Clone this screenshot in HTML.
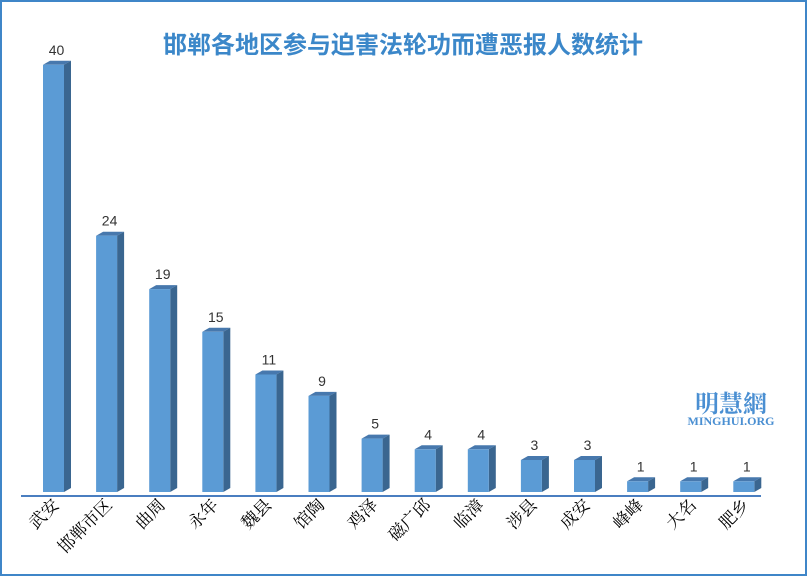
<!DOCTYPE html>
<html><head><meta charset="utf-8"><style>
html,body{margin:0;padding:0;background:#fff}
svg{display:block}
.v{font-family:"Liberation Sans",sans-serif;font-size:14px;fill:#333;text-anchor:middle}
.l{font-family:"Noto Serif CJK SC",serif;font-size:17px;fill:#000;text-anchor:end}
.tp{fill:#4778ad}.sd{fill:#3a6690}.fr{fill:#5b9bd5}
</style></head><body>
<svg width="807" height="576" xmlns="http://www.w3.org/2000/svg">
<rect x="1" y="1" width="805" height="574" fill="#fff" stroke="#3f86c8" stroke-width="2"/>
<text x="403" y="53" text-anchor="middle" font-family="'Liberation Sans','Noto Sans CJK SC',sans-serif" font-size="24" font-weight="bold" fill="#3b87c9">邯郸各地区参与迫害法轮功而遭恶报人数统计</text>
<text x="731" y="412" text-anchor="middle" font-family="'Noto Serif CJK SC',serif" font-size="24" font-weight="bold" fill="#4a8fd2">明慧網</text>
<text x="731" y="425" text-anchor="middle" font-family="'Liberation Serif',serif" font-size="12" font-weight="bold" fill="#4a8fd2">MINGHUI.ORG</text>
<line x1="21" y1="496" x2="761" y2="496" stroke="#4a7ec0" stroke-width="2"/>

<g transform="translate(43,0)"><polygon class="tp" points="0,64.8 7,60.8 28,60.8 21,64.8"/><polygon class="sd" points="21,64.8 28,60.8 28,488 21,492"/><rect class="fr" x="0" y="64.8" width="21" height="427.2"/><text class="v" x="13.5" y="54.8">40</text><text class="l" transform="translate(17,506) rotate(-45)">武安</text></g>
<g transform="translate(96.1,0)"><polygon class="tp" points="0,235.7 7,231.7 28,231.7 21,235.7"/><polygon class="sd" points="21,235.7 28,231.7 28,488 21,492"/><rect class="fr" x="0" y="235.7" width="21" height="256.3"/><text class="v" x="13.5" y="225.7">24</text><text class="l" transform="translate(17,506) rotate(-45)">邯郸市区</text></g>
<g transform="translate(149.2,0)"><polygon class="tp" points="0,289.1 7,285.1 28,285.1 21,289.1"/><polygon class="sd" points="21,289.1 28,285.1 28,488 21,492"/><rect class="fr" x="0" y="289.1" width="21" height="202.9"/><text class="v" x="13.5" y="279.1">19</text><text class="l" transform="translate(17,506) rotate(-45)">曲周</text></g>
<g transform="translate(202.3,0)"><polygon class="tp" points="0,331.8 7,327.8 28,327.8 21,331.8"/><polygon class="sd" points="21,331.8 28,327.8 28,488 21,492"/><rect class="fr" x="0" y="331.8" width="21" height="160.2"/><text class="v" x="13.5" y="321.8">15</text><text class="l" transform="translate(17,506) rotate(-45)">永年</text></g>
<g transform="translate(255.4,0)"><polygon class="tp" points="0,374.5 7,370.5 28,370.5 21,374.5"/><polygon class="sd" points="21,374.5 28,370.5 28,488 21,492"/><rect class="fr" x="0" y="374.5" width="21" height="117.5"/><text class="v" x="13.5" y="364.5">11</text><text class="l" transform="translate(17,506) rotate(-45)">魏县</text></g>
<g transform="translate(308.5,0)"><polygon class="tp" points="0,395.9 7,391.9 28,391.9 21,395.9"/><polygon class="sd" points="21,395.9 28,391.9 28,488 21,492"/><rect class="fr" x="0" y="395.9" width="21" height="96.1"/><text class="v" x="13.5" y="385.9">9</text><text class="l" transform="translate(17,506) rotate(-45)">馆陶</text></g>
<g transform="translate(361.6,0)"><polygon class="tp" points="0,438.6 7,434.6 28,434.6 21,438.6"/><polygon class="sd" points="21,438.6 28,434.6 28,488 21,492"/><rect class="fr" x="0" y="438.6" width="21" height="53.4"/><text class="v" x="13.5" y="428.6">5</text><text class="l" transform="translate(17,506) rotate(-45)">鸡泽</text></g>
<g transform="translate(414.7,0)"><polygon class="tp" points="0,449.3 7,445.3 28,445.3 21,449.3"/><polygon class="sd" points="21,449.3 28,445.3 28,488 21,492"/><rect class="fr" x="0" y="449.3" width="21" height="42.7"/><text class="v" x="13.5" y="439.3">4</text><text class="l" transform="translate(17,506) rotate(-45)">磁广邱</text></g>
<g transform="translate(467.8,0)"><polygon class="tp" points="0,449.3 7,445.3 28,445.3 21,449.3"/><polygon class="sd" points="21,449.3 28,445.3 28,488 21,492"/><rect class="fr" x="0" y="449.3" width="21" height="42.7"/><text class="v" x="13.5" y="439.3">4</text><text class="l" transform="translate(17,506) rotate(-45)">临漳</text></g>
<g transform="translate(520.9,0)"><polygon class="tp" points="0,460 7,456 28,456 21,460"/><polygon class="sd" points="21,460 28,456 28,488 21,492"/><rect class="fr" x="0" y="460" width="21" height="32"/><text class="v" x="13.5" y="450">3</text><text class="l" transform="translate(17,506) rotate(-45)">涉县</text></g>
<g transform="translate(574,0)"><polygon class="tp" points="0,460 7,456 28,456 21,460"/><polygon class="sd" points="21,460 28,456 28,488 21,492"/><rect class="fr" x="0" y="460" width="21" height="32"/><text class="v" x="13.5" y="450">3</text><text class="l" transform="translate(17,506) rotate(-45)">成安</text></g>
<g transform="translate(627.1,0)"><polygon class="tp" points="0,481.3 7,477.3 28,477.3 21,481.3"/><polygon class="sd" points="21,481.3 28,477.3 28,488 21,492"/><rect class="fr" x="0" y="481.3" width="21" height="10.7"/><text class="v" x="13.5" y="471.3">1</text><text class="l" transform="translate(17,506) rotate(-45)">峰峰</text></g>
<g transform="translate(680.2,0)"><polygon class="tp" points="0,481.3 7,477.3 28,477.3 21,481.3"/><polygon class="sd" points="21,481.3 28,477.3 28,488 21,492"/><rect class="fr" x="0" y="481.3" width="21" height="10.7"/><text class="v" x="13.5" y="471.3">1</text><text class="l" transform="translate(17,506) rotate(-45)">大名</text></g>
<g transform="translate(733.3,0)"><polygon class="tp" points="0,481.3 7,477.3 28,477.3 21,481.3"/><polygon class="sd" points="21,481.3 28,477.3 28,488 21,492"/><rect class="fr" x="0" y="481.3" width="21" height="10.7"/><text class="v" x="13.5" y="471.3">1</text><text class="l" transform="translate(17,506) rotate(-45)">肥乡</text></g>
</svg>
</body></html>
